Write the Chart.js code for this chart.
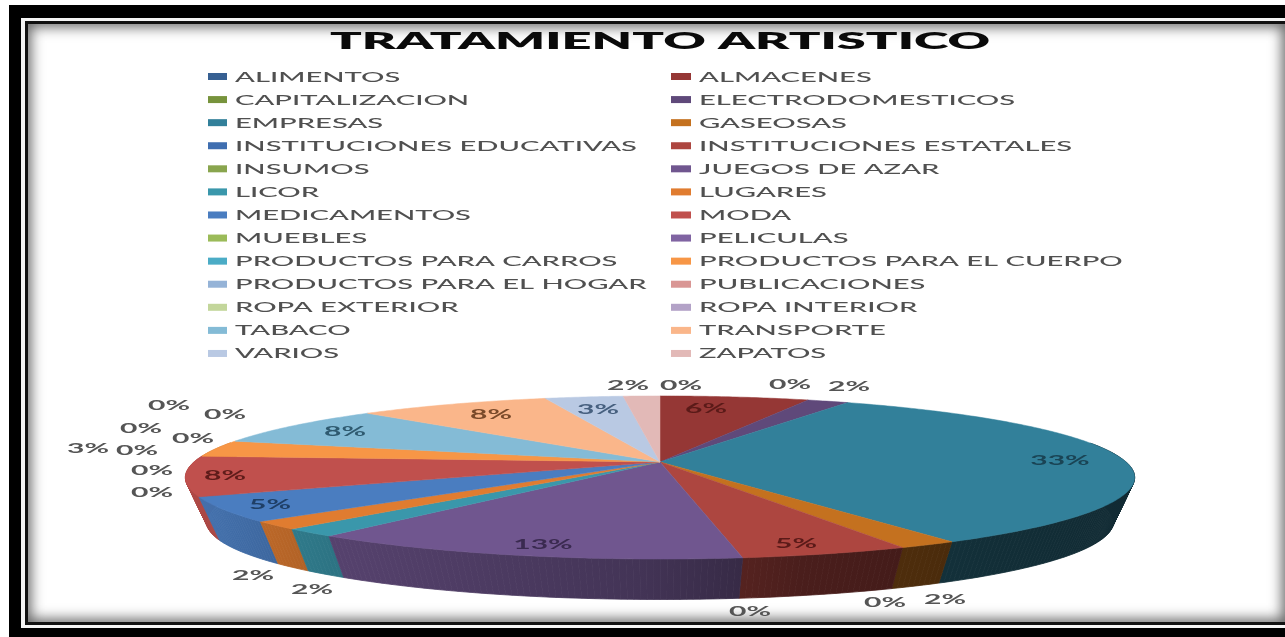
<!DOCTYPE html>
<html>
<head>
<meta charset="utf-8">
<script src="https://cdn.jsdelivr.net/npm/chart.js@4/dist/chart.umd.js"></script>
<style>
html,body{margin:0;padding:0;background:#fff;overflow:hidden;width:1285px;height:637px}
.f{position:absolute}
#black{left:9px;top:5px;width:1290px;height:640px;background:#000}
#white{left:21px;top:18px;width:1290px;height:610px;background:#f4f4f4}
#line{left:25px;top:21px;width:1290px;height:604px;background:#111}
#paper{left:28px;top:24px;width:1257px;height:598px;background:#fff;box-shadow:inset 0 0 13px 3px #666}
canvas{position:absolute;left:0;top:0;filter:blur(0.55px)}
</style>
</head>
<body>
<div class="f" id="black"></div><div class="f" id="white"></div><div class="f" id="line"></div><div class="f" id="paper"></div>
<canvas id="c" width="1285" height="637"></canvas>
<script>
const chartTitle = 'TRATAMIENTO ARTISTICO';
const categories = ['ALIMENTOS','ALMACENES','CAPITALIZACION','ELECTRODOMESTICOS','EMPRESAS','GASEOSAS',
  'INSTITUCIONES EDUCATIVAS','INSTITUCIONES ESTATALES','INSUMOS','JUEGOS DE AZAR','LICOR','LUGARES',
  'MEDICAMENTOS','MODA','MUEBLES','PELICULAS','PRODUCTOS PARA CARROS','PRODUCTOS PARA EL CUERPO',
  'PRODUCTOS PARA EL HOGAR','PUBLICACIONES','ROPA EXTERIOR','ROPA INTERIOR','TABACO','TRANSPORTE','VARIOS','ZAPATOS'];
const shareValues = [0,6.1,0,1.7,33.4,1.7,0,4.8,0,12.6,1.6,1.6,4.8,7.9,0,0,0,3.3,0,0,0,0,7.9,7.9,3.2,1.5];
const sliceColors = ['#376092','#953735','#77933c','#5f497a','#32809a','#c4711f','#3f6eb0','#ad4640','#89a54e','#70568f',
  '#3a97ab','#e07c30','#4a7dc0','#c0504d','#9bbb59','#8064a2','#4bacc6','#f79646','#95b3d7','#d99694','#c3d69b','#b3a2c7',
  '#84bbd6','#fab68a','#b9c9e3','#e2b9b7'];
const labelInk = ['#555','#5a1a18','#555','#555','#1a4455','#555','#555','#5a1a18','#555','#3a2a50','#555','#555',
  '#1f3f66','#5f1c1a','#555','#555','#555','#555','#555','#555','#555','#555','#2f5a70','#7a4a2a','#47607f','#555'];
const labelSpots = [[681,386],[706,409],[790,385],[849,387],[1060,461],[945,600],[885,603],[796,544],[750,612],[543,545],
  [312,590],[253,576],[270,505],[225,476],[152,493],[152,471],[137,451],[88,449],[193,439],[141,429],[225,415],[169,406],
  [345,432],[491,415],[598,410],[628,386]];

const CX=660, CY=462, RX=466, RY=78.6, K=-0.19;
function topPt(a){const u=Math.cos(a),v=Math.sin(a),w=1+K*v;return [CX+RX*u/w,CY+RY*v/w,v];}
function botPt(p){return [660+0.955*(p[0]-660),522+0.95*(p[1]-477.5)];}
const sideStops=[[180,.92],[330,.77],[640,.6],[800,.43],[1000,.36],[1140,.33]];
function tone(hex,f){const n=parseInt(hex.slice(1),16);return `rgb(${Math.round((n>>16&255)*f)},${Math.round((n>>8&255)*f)},${Math.round((n&255)*f)})`;}

const ArcEl=Chart.registry.getElement('arc');
ArcEl.prototype.draw=function(ctx){
  const s=this.startAngle,e=this.endAngle;
  if(!(e-s>0))return;
  const col=this.options.backgroundColor,n=Math.max(2,Math.ceil((e-s)/0.01));
  ctx.save();ctx.beginPath();ctx.moveTo(CX,CY);
  for(let i=0;i<=n;i++){const p=topPt(s+(e-s)*i/n);ctx.lineTo(p[0],p[1]);}
  ctx.closePath();ctx.fillStyle=col;ctx.strokeStyle=col;ctx.lineWidth=.5;ctx.fill();ctx.stroke();ctx.restore();
};

function stretched(ctx,t,x,y,sx){ctx.save();ctx.translate(x,y);ctx.scale(sx,1);ctx.fillText(t,0,0);ctx.restore();}

const pie3d={id:'pie3d',
  beforeDatasetsDraw(chart){
    const ctx=chart.ctx,arcs=chart.getDatasetMeta(0).data,q=[],grads={};
    arcs.forEach((el,i)=>{
      const s=el.startAngle,e=el.endAngle;if(!(e-s>0))return;
      const n=Math.max(1,Math.ceil((e-s)/0.012)),c=el.options.backgroundColor;
      if(!grads[c]){
        const g=ctx.createLinearGradient(180,0,1140,0);
        sideStops.forEach(t=>g.addColorStop((t[0]-180)/960,tone(c,t[1])));
        grads[c]=g;
      }
      for(let j=0;j<n;j++){
        const a=topPt(s+(e-s)*j/n),b=topPt(s+(e-s)*(j+1)/n);
        if(a[2]<-0.25&&b[2]<-0.25)continue;
        q.push({a,b,v:(a[2]+b[2])/2,g:grads[c]});
      }
    });
    q.sort((m,n)=>m.v-n.v).forEach(o=>{
      const A=botPt(o.a),B=botPt(o.b);
      ctx.beginPath();ctx.moveTo(o.a[0],o.a[1]);ctx.lineTo(o.b[0],o.b[1]);ctx.lineTo(B[0],B[1]);ctx.lineTo(A[0],A[1]);ctx.closePath();
      ctx.fillStyle=o.g;ctx.strokeStyle=o.g;ctx.lineWidth=.8;ctx.fill();ctx.stroke();
    });
  },
  afterDatasetsDraw(chart){
    const ctx=chart.ctx,vals=chart.data.datasets[0].data,cols=chart.data.datasets[0].backgroundColor;
    ctx.save();ctx.textBaseline='middle';
    // title
    ctx.textAlign='left';ctx.fillStyle='#0a0a0a';ctx.font='800 22px Lato';
    const tw=ctx.measureText(chartTitle).width;stretched(ctx,chartTitle,330,42,660/tw);
    // legend
    ctx.font='500 14px Lato';
    const sx=402/ctx.measureText('INSTITUCIONES EDUCATIVAS').width;
    chart.data.labels.forEach((t,i)=>{
      const col=i%2,row=(i-col)/2,y=76.5+row*23.08;
      ctx.fillStyle=cols[i];ctx.fillRect(col?671:208,y-3.5,col?20:19,7);
      ctx.fillStyle='#505050';stretched(ctx,t,col?699:235,y+.5,sx);
    });
    // value labels
    ctx.font='700 13px Lato';
    const ls=42/ctx.measureText('0%').width;
    vals.forEach((v,i)=>{
      const t=Math.round(v)+'%',w=ctx.measureText(t).width*ls;
      ctx.fillStyle=labelInk[i];
      stretched(ctx,t,labelSpots[i][0]-w/2,labelSpots[i][1],ls);
    });
    ctx.restore();
  }
};

new Chart(document.getElementById('c'),{
  type:'pie',
  data:{labels:categories,datasets:[{data:shareValues,backgroundColor:sliceColors,borderWidth:0}]},
  options:{responsive:false,animation:false,plugins:{legend:{display:false},title:{display:false,text:chartTitle},tooltip:{enabled:false}}},
  plugins:[pie3d]
});
</script>
</body>
</html>
